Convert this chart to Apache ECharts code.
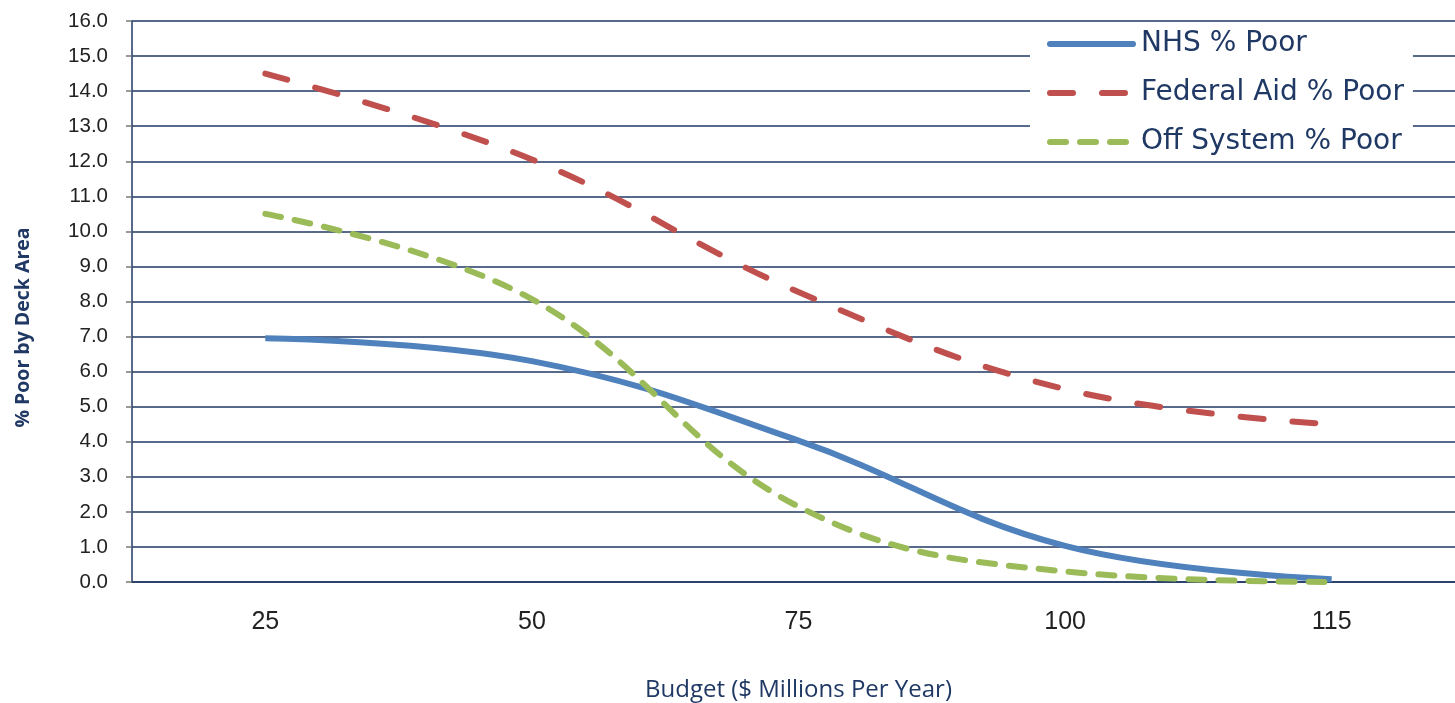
<!DOCTYPE html>
<html>
<head>
<meta charset="utf-8">
<script src="https://cdn.jsdelivr.net/npm/echarts@6/dist/echarts.min.js"></script>
<style>
  html, body { margin: 0; padding: 0; background: #fff; }
  #chart { width: 1455px; height: 703px; }
</style>
</head>
<body>
<div id="chart"></div>
<script>
const budgets = ['25', '50', '75', '100', '115'];
const nhsPoor = [6.95, 6.3, 4.03, 1.03, 0.08];
const federalAidPoor = [14.5, 12.05, 8.27, 5.5, 4.5];
const offSystemPoor = [10.5, 8.07, 2.15, 0.3, 0.0];

const NAVY = '#1F3864';
const chart = echarts.init(document.getElementById('chart'));

const option = {
  backgroundColor: '#fff',
  animation: false,
  grid: {
    left: 132,
    right: -10,
    top: 21,
    bottom: 121,
    outerBoundsMode: 'none'
  },
  legend: {
    orient: 'vertical',
    left: 1030,
    top: 27,
    itemWidth: 83,
    itemHeight: 10,
    itemGap: 21,
    backgroundColor: '#fff',
    padding: [3, 9, 4, 17],
    itemStyle: { opacity: 0 },
    lineStyle: { width: 6, cap: 'round' },
    textStyle: {
      fontFamily: 'DejaVu Sans, sans-serif',
      fontSize: 28,
      color: NAVY,
      padding: [0, 0, 0, 3]
    }
  },
  xAxis: {
    type: 'category',
    data: budgets,
    boundaryGap: true,
    name: 'Budget ($ Millions Per Year)',
    nameLocation: 'middle',
    nameGap: 96,
    nameTextStyle: {
      fontFamily: 'Open Sans, sans-serif',
      fontSize: 24,
      color: NAVY
    },
    axisLine: { lineStyle: { color: NAVY, width: 1.5 } },
    axisTick: { length: 10, lineStyle: { color: NAVY, width: 1.5 } },
    axisLabel: {
      margin: 28,
      fontFamily: 'Liberation Sans, Arial, sans-serif',
      fontSize: 25,
      color: '#222'
    }
  },
  yAxis: {
    type: 'value',
    min: 0,
    max: 16,
    interval: 1,
    name: '% Poor by Deck Area',
    nameLocation: 'middle',
    nameGap: 99,
    nameTextStyle: {
      fontFamily: 'Open Sans, sans-serif',
      fontWeight: 'bold',
      fontSize: 19.5,
      color: NAVY,
      padding: [0, 52, 0, 0]
    },
    axisLine: { show: true, lineStyle: { color: NAVY, width: 1.5 } },
    axisTick: { show: true, length: 6, lineStyle: { color: '#777', width: 1.5 } },
    splitLine: { lineStyle: { color: NAVY, width: 1.5 } },
    axisLabel: {
      margin: 24,
      fontFamily: 'Liberation Sans, Arial, sans-serif',
      fontSize: 20.5,
      color: '#222',
      formatter: v => v.toFixed(1)
    }
  },
  series: [
    {
      name: 'NHS % Poor',
      type: 'line',
      data: nhsPoor,
      smooth: 0.4,
      symbol: 'none',
      lineStyle: { color: '#4F81BD', width: 6 },
      itemStyle: { color: '#4F81BD' }
    },
    {
      name: 'Federal Aid % Poor',
      type: 'line',
      data: federalAidPoor,
      smooth: 0.4,
      symbol: 'none',
      lineStyle: { color: '#C0504D', width: 6, type: [23, 29], cap: 'round' },
      itemStyle: { color: '#C0504D' }
    },
    {
      name: 'Off System % Poor',
      type: 'line',
      data: offSystemPoor,
      smooth: 0.4,
      symbol: 'none',
      lineStyle: { color: '#9BBB59', width: 6, type: [16, 14], cap: 'round' },
      itemStyle: { color: '#9BBB59' }
    }
  ]
};

chart.setOption(option);
</script>
</body>
</html>
